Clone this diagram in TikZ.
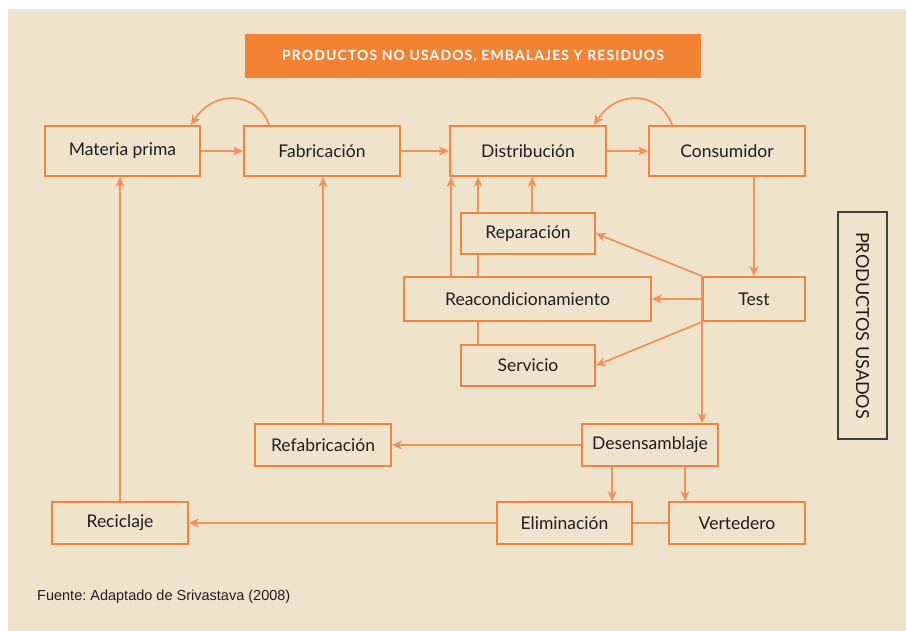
\documentclass[tikz,border=0pt]{standalone}
\usepackage{fontspec}
\setmainfont{Lato}
\setsansfont{Liberation Sans}
\usetikzlibrary{arrows.meta}
\frenchspacing
\definecolor{bgbeige}{RGB}{239,227,204}
\definecolor{boxorange}{RGB}{240,132,62}
\definecolor{lineorange}{RGB}{243,146,86}
\definecolor{titleorange}{RGB}{242,131,53}
\definecolor{txt}{RGB}{30,30,35}
\tikzset{
  box/.style={draw=boxorange, line width=1.8pt, fill=none, text=txt, font=\fontsize{17.5}{20}\selectfont, inner sep=0pt},
  arr/.style={draw=lineorange, line width=1.7pt, -{Stealth[length=10pt,width=9pt,inset=3pt]}},
  ln/.style={draw=lineorange, line width=1.7pt},
}
\begin{document}
\begin{tikzpicture}[x=1pt,y=-1pt]
\useasboundingbox (0,0) rectangle (906,631);
\fill[white] (0,0) rectangle (906,631);
\fill[bgbeige] (8,9) rectangle (906,631);
% title
\node[fill=titleorange, minimum width=456pt, minimum height=44pt, inner sep=0pt, text=white, font=\bfseries\fontsize{14}{16}\selectfont\addfontfeatures{LetterSpace=8}] (title) at (473,56) {PRODUCTOS NO USADOS, EMBALAJES Y RESIDUOS};
% boxes
\node[box, minimum width=155pt, minimum height=50pt] (mp) at (122.5,151) {Materia prima};
\node[box, minimum width=156pt, minimum height=50pt] (fab) at (322,151) {Fabricación};
\node[box, minimum width=156pt, minimum height=50pt] (dist) at (528,151) {Distribución};
\node[box, minimum width=156pt, minimum height=50pt] (cons) at (727,151) {Consumidor};
\node[box, minimum width=134pt, minimum height=41pt] (rep) at (528,233.5) {Reparación};
\node[box, minimum width=247pt, minimum height=44pt] (reac) at (527.5,299) {Reacondicionamiento};
\node[box, minimum width=102pt, minimum height=44pt] (test) at (754,299) {Test};
\node[box, minimum width=134pt, minimum height=41pt] (serv) at (528,365.5) {Servicio};
\node[box, minimum width=136pt, minimum height=42pt] (refab) at (323,445) {Refabricación};
\node[box, minimum width=136pt, minimum height=42pt] (des) at (650,445) {Desensamblaje};
\node[box, minimum width=136pt, minimum height=42pt] (rec) at (120,523) {Reciclaje};
\node[box, minimum width=135pt, minimum height=42pt] (elim) at (564.5,523) {Eliminación};
\node[box, minimum width=136pt, minimum height=42pt] (vert) at (737,523) {Vertedero};
\node[draw=black!75, line width=1.3pt, minimum width=49pt, minimum height=227pt, inner sep=0pt] (pu) at (862.5,325.5) {};
\node[rotate=-90, text=txt, font=\fontsize{18}{20}\selectfont] (putext) at (pu.center) {PRODUCTOS USADOS};
\node[anchor=west, text=txt, font=\sffamily\fontsize{14.5}{16}\selectfont, inner sep=0pt] (src) at (37,597) {Fuente: Adaptado de Srivastava (2008)};
% connectors
\draw[arr] (mp.east) -- (fab.west);
\draw[arr] (fab.east) -- (dist.west);
\draw[arr] (dist.east) -- (cons.west);
\draw[arr] ([xshift=26pt]fab.north west) .. controls ([xshift=14pt,yshift=34pt]fab.north west) and ([xshift=-29pt,yshift=36pt]fab.north west) .. ([xshift=-10pt]mp.north east);
\draw[arr] ([xshift=24pt]cons.north west) .. controls ([xshift=12pt,yshift=34pt]cons.north west) and ([xshift=-31pt,yshift=36pt]cons.north west) .. ([xshift=-13pt]dist.north east);
\draw[arr] (test.north |- cons.south) -- (test.north);
\draw[arr] (test.north west) -- (rep.east);
\draw[arr] (test.west) -- (reac.east);
\draw[arr] (test.south west) -- (serv.east);
\draw[arr] (test.north west) -- (test.north west |- des.north);
\coordinate (ra) at ([xshift=48pt]reac.north west);
\draw[arr] (ra) -- (ra |- dist.south);
\coordinate (rb) at ([xshift=18pt]rep.north west);
\draw[arr] (rb) -- (rb |- dist.south);
\draw[ln] (rb |- reac.north) -- (rb |- rep.south);
\draw[ln] (rb |- serv.north) -- (rb |- reac.south);
\coordinate (rc) at ([xshift=72pt]rep.north west);
\draw[arr] (rc) -- (rc |- dist.south);
\draw[arr] (des.west) -- (refab.east);
\draw[arr] (refab.north) -- (refab.north |- fab.south);
\draw[arr] (rec.north) -- (rec.north |- mp.south);
\coordinate (da) at ([xshift=31pt]des.south west);
\draw[arr] (da) -- (da |- elim.north);
\coordinate (db) at ([xshift=104pt]des.south west);
\draw[arr] (db) -- (db |- vert.north);
\draw[arr] (elim.west) -- (rec.east);
\draw[ln] (elim.east) -- (vert.west);
\end{tikzpicture}
\end{document}
